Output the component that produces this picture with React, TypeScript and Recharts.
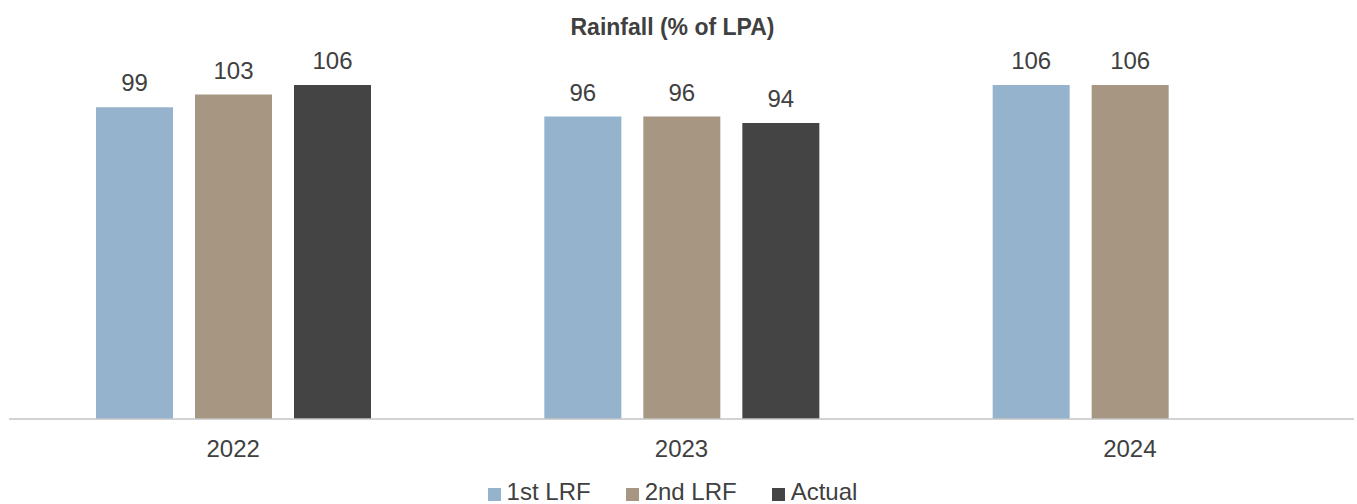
import React from "react";
import { BarChart, Bar, XAxis, YAxis, LabelList, Legend } from "recharts";

// monsoon rainfall forecasts vs actual, % of long period average
const years = ["2022", "2023", "2024"];
const firstLrf = [99, 96, 106];
const secondLrf = [103, 96, 106];
const actual: (number | null)[] = [106, 94, null];

const series = [
  { key: "first", name: "1st LRF", color: "#95B3CD" },
  { key: "second", name: "2nd LRF", color: "#A69682" },
  { key: "actual", name: "Actual", color: "#444444" },
];

const rows = years.map((year, i) => ({
  year,
  first: firstLrf[i],
  second: secondLrf[i],
  actual: actual[i],
}));

const FONT = "'Liberation Sans', Arial, sans-serif";
const TEXT = "#404040";

function LegendRow() {
  return (
    <div
      style={{
        display: "flex",
        justifyContent: "center",
        fontFamily: FONT,
        fontSize: 24,
        lineHeight: "24px",
        color: TEXT,
        paddingRight: 12,
      }}
    >
      {series.map((s, i) => (
        <div
          key={s.key}
          style={{
            display: "flex",
            alignItems: "center",
            marginRight: i < series.length - 1 ? 35 : 0,
          }}
        >
          <span
            style={{
              width: 13,
              height: 13,
              background: s.color,
              marginRight: 6,
              transform: "translateY(2px)",
            }}
          />
          <span>{s.name}</span>
        </div>
      ))}
    </div>
  );
}

export default function App() {
  return (
    <div style={{ position: "relative", width: 1357, height: 504 }}>
      <style>{"body{margin:0}"}</style>
      <div
        style={{
          position: "absolute",
          top: 16,
          left: 0,
          width: 1345,
          textAlign: "center",
          fontFamily: FONT,
          fontWeight: "bold",
          fontSize: 23,
          lineHeight: "23px",
          color: TEXT,
          zIndex: 1,
        }}
      >
        Rainfall (% of LPA)
      </div>
      <BarChart
        width={1357}
        height={504}
        data={rows}
        margin={{ top: 41, right: 3, bottom: 0, left: 9 }}
        barSize={77}
        barGap={22}
      >
        <XAxis
          dataKey="year"
          height={85}
          tickLine={false}
          tickMargin={15}
          axisLine={{ stroke: "#C4C4C4", strokeWidth: 1.5 }}
          tick={{ fill: TEXT, fontSize: 24, fontFamily: FONT }}
        />
        <YAxis hide domain={[0, 120]} />
        <Legend
          verticalAlign="middle"
          align="center"
          content={() => <LegendRow />}
          wrapperStyle={{ top: 480, left: 0, width: 1357 }}
        />
        {series.map((s) => (
          <Bar
            key={s.key}
            dataKey={s.key}
            name={s.name}
            fill={s.color}
            isAnimationActive={false}
          >
            <LabelList
              dataKey={s.key}
              position="top"
              offset={16}
              fill={TEXT}
              fontSize={24}
              fontFamily={FONT}
            />
          </Bar>
        ))}
      </BarChart>
    </div>
  );
}
